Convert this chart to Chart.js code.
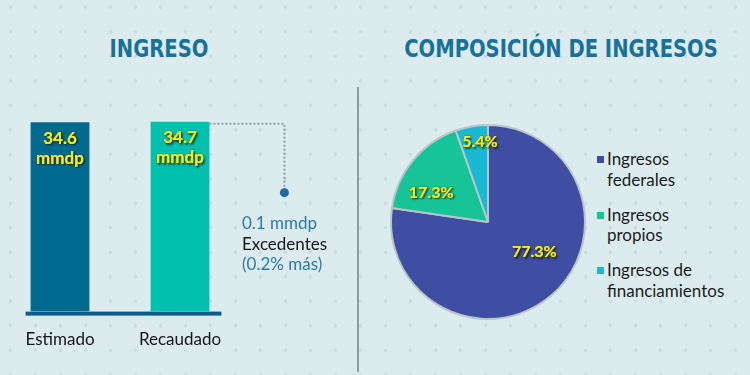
<!DOCTYPE html>
<html><head><meta charset="utf-8">
<script src="https://cdn.jsdelivr.net/npm/chart.js@4.4.0/dist/chart.umd.min.js"></script>
<style>
html,body{margin:0;padding:0;}
body{width:750px;height:375px;overflow:hidden;position:relative;background-color:#dcecee;
background-image:radial-gradient(circle,#c9dde0 1.6px,transparent 2.2px);background-size:25px 24.5px;background-position:-2px -5px;
font-family:Lato,'Open Sans',sans-serif;}
.title{position:absolute;top:34px;font-family:'DejaVu Sans Condensed','DejaVu Sans',sans-serif;font-weight:bold;font-size:25px;color:#17719a;white-space:nowrap;line-height:30px;transform:translateX(-50%) scaleX(0.87);}
#divider{position:absolute;left:357px;top:87px;width:2px;height:285px;background:#8b9ca1;}
.note{position:absolute;left:242px;font-size:17px;line-height:20.5px;white-space:nowrap;}
#legend{position:absolute;left:597px;top:149px;font-size:17px;color:#1c1c1c;line-height:20.5px;}
.li{position:relative;padding-left:10px;margin-bottom:14.5px;}
.li span.sq{position:absolute;left:0;top:7px;width:7px;height:7px;}
canvas{position:absolute;}
</style></head>
<body>
<div class="title" id="t1" style="left:159px"></div>
<div class="title" id="t2" style="left:561px"></div>
<div id="divider"></div>
<div style="position:absolute;left:0;top:120px;width:300px;height:258px"><canvas id="bar"></canvas></div>
<div class="note" id="notes" style="top:213px"></div>
<div style="position:absolute;left:388px;top:122px;width:200px;height:200px"><canvas id="pie"></canvas></div>
<div id="legend"></div>
<script>
// ---- data ----
const barTitle = "INGRESO";
const pieTitle = "COMPOSICIÓN DE INGRESOS";
const barCategories = ["Estimado", "Recaudado"];
const barValues = [34.6, 34.7];
const barUnit = "mmdp";
const barColors = ["#006a8e", "#00c1ad"];
const noteLines = ["0.1 mmdp", "Excedentes", "(0.2% más)"];
const noteColors = ["#2a7aaa", "#151515", "#2a7aaa"];
const pieLabels = [["Ingresos","federales"], ["Ingresos","propios"], ["Ingresos de","financiamientos"]];
const pieValues = [77.3, 17.3, 5.4];
const pieColors = ["#3f4ea2", "#16c498", "#19b9d3"];

document.getElementById('t1').textContent = barTitle;
document.getElementById('t2').textContent = pieTitle;
const notes = document.getElementById('notes');
noteLines.forEach((t,i)=>{const d=document.createElement('div');d.textContent=t;d.style.color=noteColors[i];notes.appendChild(d);});
const leg = document.getElementById('legend');
pieLabels.forEach((l,i)=>{const d=document.createElement('div');d.className='li';
 const s=document.createElement('span');s.className='sq';s.style.background=pieColors[i];d.appendChild(s);
 l.forEach(t=>{const x=document.createElement('div');x.textContent=t;d.appendChild(x);});leg.appendChild(d);});

function yellowText(ctx, txt, x, y, font){
  ctx.save();
  ctx.font = font; ctx.textAlign='center'; ctx.textBaseline='middle';
  ctx.shadowColor='rgba(10,10,10,0.75)'; ctx.shadowOffsetX=1.5; ctx.shadowOffsetY=1.5; ctx.shadowBlur=2;
  ctx.fillStyle='#f6ec12'; ctx.fillText(txt,x,y);
  ctx.shadowColor='transparent';
  ctx.strokeStyle='rgba(60,55,20,0.35)'; ctx.lineWidth=0.8;
  ctx.strokeText(txt,x,y);
  ctx.fillText(txt,x,y);
  ctx.restore();
}

const barPlugin = {
  id:'barDeco',
  afterDatasetsDraw(chart){
    const ctx=chart.ctx, meta=chart.getDatasetMeta(0), area=chart.chartArea;
    meta.data.forEach((el,i)=>{
      yellowText(ctx, barValues[i].toFixed(1), el.x, el.y+16, 'bold 17px Lato, sans-serif');
      yellowText(ctx, barUnit, el.x, el.y+36, 'bold 17px Lato, sans-serif');
    });
    const first=meta.data[0], last=meta.data[meta.data.length-1];
    ctx.save();
    ctx.fillStyle='#0d5a8c';
    ctx.fillRect(first.x-first.width/2-5, area.bottom, (last.x+last.width/2+12)-(first.x-first.width/2-5), 4);
    const rx=last.x+last.width/2, ty=last.y+2, ex=rx+75, ey=ty+69;
    ctx.strokeStyle='#8d9ea4'; ctx.lineWidth=2; ctx.setLineDash([2,2]);
    ctx.beginPath(); ctx.moveTo(rx,ty); ctx.lineTo(ex,ty); ctx.lineTo(ex,ey); ctx.stroke();
    ctx.setLineDash([]);
    ctx.fillStyle='#1d6aa0'; ctx.beginPath(); ctx.arc(ex,ey,4.5,0,Math.PI*2); ctx.fill();
    ctx.restore();
  }
};

new Chart(document.getElementById('bar'),{
  type:'bar',
  data:{labels:barCategories,datasets:[{data:barValues,backgroundColor:barColors,barPercentage:0.49,categoryPercentage:1}]},
  options:{responsive:true,maintainAspectRatio:false,animation:false,
    layout:{padding:{top:0,right:60,bottom:10,left:0}},
    plugins:{legend:{display:false},tooltip:{enabled:false}},
    scales:{
      x:{grid:{display:false,drawTicks:false},border:{display:false},
         ticks:{padding:18,color:'#151515',font:{family:'Lato',size:17}}},
      y:{display:false,min:0,max:35}
    }},
  plugins:[barPlugin]
});

const labelRadius=[0.57,0.66,0.83];
const labelTurnDeg=[-16,-12,4];
const piePlugin={
  id:'pieLabels',
  afterDatasetsDraw(chart){
    const ctx=chart.ctx, meta=chart.getDatasetMeta(0);
    meta.data.forEach((arc,i)=>{
      const p=arc.getProps(['x','y','startAngle','endAngle','outerRadius']);
      const a=(p.startAngle+p.endAngle)/2+labelTurnDeg[i]*Math.PI/180, r=p.outerRadius*labelRadius[i];
      yellowText(ctx, pieValues[i].toFixed(1)+'%', p.x+Math.cos(a)*r, p.y+Math.sin(a)*r, 'bold 16px Lato, sans-serif');
    });
  }
};
new Chart(document.getElementById('pie'),{
  type:'pie',
  data:{labels:pieLabels.map(l=>l.join(' ')),datasets:[{data:pieValues,backgroundColor:pieColors,borderColor:'#b9c6c9',borderWidth:2}]},
  options:{responsive:true,maintainAspectRatio:false,animation:false,
    layout:{padding:2},
    plugins:{legend:{display:false},tooltip:{enabled:false}}},
  plugins:[piePlugin]
});
</script>
</body></html>
